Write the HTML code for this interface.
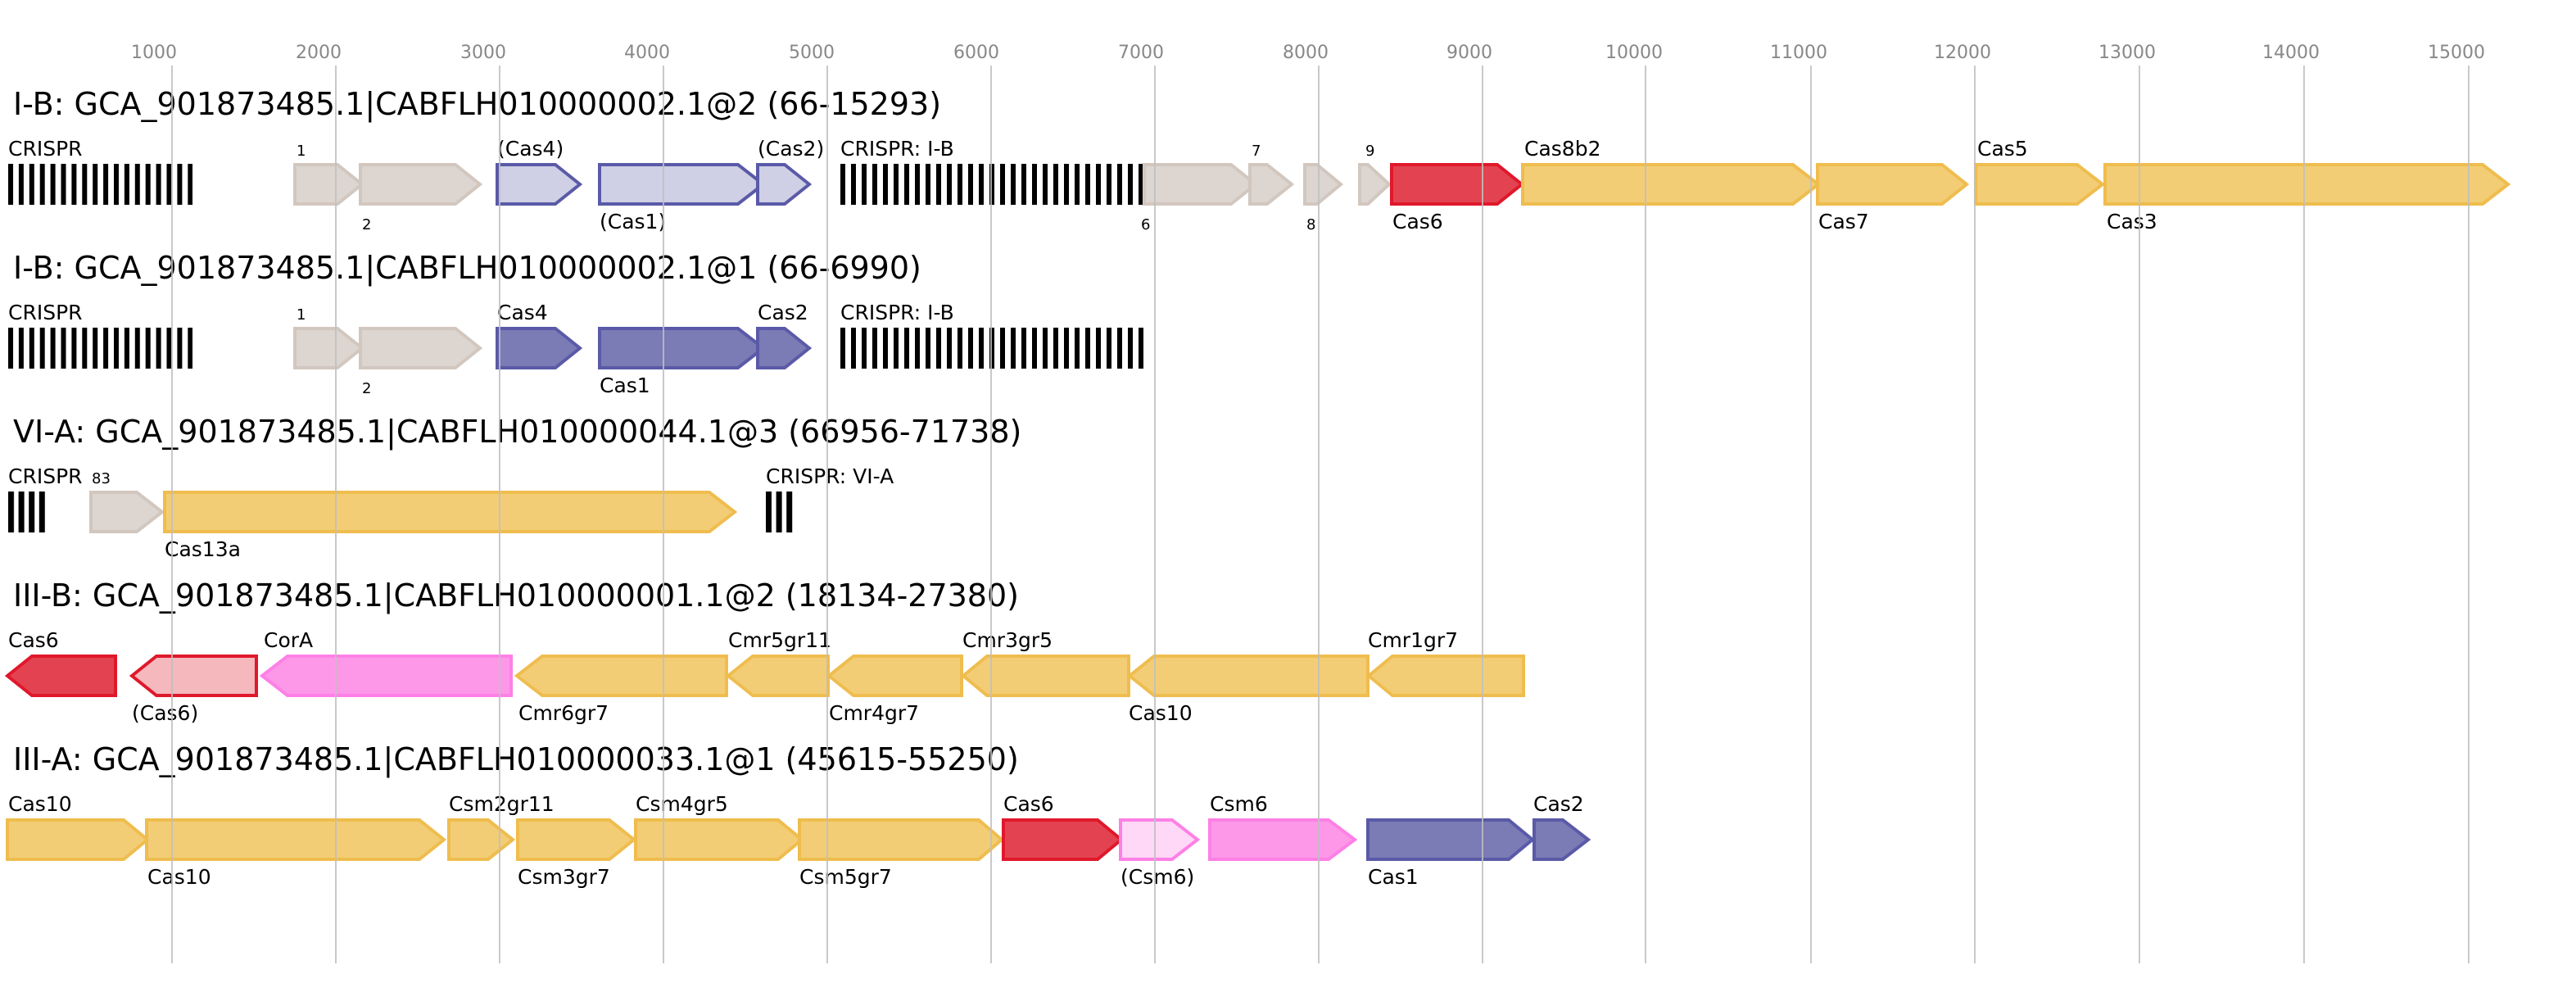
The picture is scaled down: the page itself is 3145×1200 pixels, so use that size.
<!DOCTYPE html>
<html><head><meta charset="utf-8"><style>
html,body{margin:0;padding:0;background:#fff;}
svg{display:block;}
text{font-family:"DejaVu Sans","Liberation Sans",sans-serif;fill:#000;}
.t{font-size:38px;}
.l{font-size:25px;}
.n{font-size:18px;}
.k{font-size:22px;fill:#888;text-anchor:middle;}
.gr{fill:#dcd5d0;stroke:#d2c7bf;stroke-width:4;}
.lb{fill:#cfcfe5;stroke:#5a5aa8;stroke-width:4;}
.db{fill:#7b7bb5;stroke:#5a5aa8;stroke-width:4;}
.rd{fill:#e34350;stroke:#e0182b;stroke-width:4;}
.lr{fill:#f4b8bd;stroke:#e0182b;stroke-width:4;}
.ye{fill:#f2cd75;stroke:#efbd4e;stroke-width:4;}
.pk{fill:#fd98e9;stroke:#fd80e6;stroke-width:4;}
.lp{fill:#fed8f6;stroke:#fd80e6;stroke-width:4;}
.g line{stroke:#c0c0c0;stroke-width:2;opacity:0.85;}
</style></head><body>
<svg width="3145" height="1200" viewBox="0 0 3145 1200" xmlns="http://www.w3.org/2000/svg">
<defs>
<pattern id="pa" x="10" y="0" width="12.9" height="10" patternUnits="userSpaceOnUse"><rect width="6" height="10" fill="#000"/></pattern>
<pattern id="pb" x="1026" y="0" width="13" height="10" patternUnits="userSpaceOnUse"><rect width="6" height="10" fill="#000"/></pattern>
<pattern id="pc" x="10" y="0" width="12.6" height="10" patternUnits="userSpaceOnUse"><rect width="7" height="10" fill="#000"/></pattern>
<pattern id="pd" x="935" y="0" width="12.6" height="10" patternUnits="userSpaceOnUse"><rect width="7" height="10" fill="#000"/></pattern>
</defs>

<text class="k" x="188" y="71">1000</text>
<text class="k" x="389" y="71">2000</text>
<text class="k" x="590" y="71">3000</text>
<text class="k" x="790" y="71">4000</text>
<text class="k" x="991" y="71">5000</text>
<text class="k" x="1192" y="71">6000</text>
<text class="k" x="1393" y="71">7000</text>
<text class="k" x="1594" y="71">8000</text>
<text class="k" x="1794" y="71">9000</text>
<text class="k" x="1995" y="71">10000</text>
<text class="k" x="2196" y="71">11000</text>
<text class="k" x="2396" y="71">12000</text>
<text class="k" x="2597" y="71">13000</text>
<text class="k" x="2797" y="71">14000</text>
<text class="k" x="2999" y="71">15000</text>

<text class="t" x="16" y="140">I-B: GCA_901873485.1|CABFLH010000002.1@2 (66-15293)</text>
<rect x="10" y="200" width="225" height="50" fill="url(#pa)"/>
<rect x="1026" y="200" width="370" height="50" fill="url(#pb)"/>
<polygon class="gr" points="360,201 412,201 442,225 412,249 360,249"/>
<polygon class="gr" points="440,201 556,201 586,225 556,249 440,249"/>
<polygon class="lb" points="607,201 678,201 708,225 678,249 607,249"/>
<polygon class="lb" points="732,201 901,201 932,225 901,249 732,249"/>
<polygon class="lb" points="925,201 958,201 988,225 958,249 925,249"/>
<polygon class="gr" points="1397,201 1503,201 1533,225 1503,249 1397,249"/>
<polygon class="gr" points="1526,201 1547,201 1577,225 1547,249 1526,249"/>
<polygon class="gr" points="1593,201 1608,201 1637,225 1608,249 1593,249"/>
<polygon class="gr" points="1660,201 1670,201 1696,225 1670,249 1660,249"/>
<polygon class="rd" points="1699,201 1828,201 1858,225 1828,249 1699,249"/>
<polygon class="ye" points="1859,201 2189,201 2220,225 2189,249 1859,249"/>
<polygon class="ye" points="2219,201 2371,201 2401,225 2371,249 2219,249"/>
<polygon class="ye" points="2412,201 2536,201 2567,225 2536,249 2412,249"/>
<polygon class="ye" points="2570,201 3031,201 3062,225 3031,249 2570,249"/>
<text class="l" x="10" y="190">CRISPR</text>
<text class="n" x="362" y="190">1</text>
<text class="n" x="442" y="280">2</text>
<text class="l" x="607" y="190">(Cas4)</text>
<text class="l" x="732" y="279">(Cas1)</text>
<text class="l" x="925" y="190">(Cas2)</text>
<text class="l" x="1026" y="190">CRISPR: I-B</text>
<text class="n" x="1393" y="280">6</text>
<text class="n" x="1528" y="190">7</text>
<text class="n" x="1595" y="280">8</text>
<text class="n" x="1667" y="190">9</text>
<text class="l" x="1700" y="279">Cas6</text>
<text class="l" x="1861" y="190">Cas8b2</text>
<text class="l" x="2220" y="279">Cas7</text>
<text class="l" x="2414" y="190">Cas5</text>
<text class="l" x="2572" y="279">Cas3</text>

<text class="t" x="16" y="340">I-B: GCA_901873485.1|CABFLH010000002.1@1 (66-6990)</text>
<rect x="10" y="400" width="225" height="50" fill="url(#pa)"/>
<rect x="1026" y="400" width="370" height="50" fill="url(#pb)"/>
<polygon class="gr" points="360,401 412,401 442,425 412,449 360,449"/>
<polygon class="gr" points="440,401 556,401 586,425 556,449 440,449"/>
<polygon class="db" points="607,401 678,401 708,425 678,449 607,449"/>
<polygon class="db" points="732,401 901,401 932,425 901,449 732,449"/>
<polygon class="db" points="925,401 958,401 988,425 958,449 925,449"/>
<text class="l" x="10" y="390">CRISPR</text>
<text class="n" x="362" y="390">1</text>
<text class="n" x="442" y="480">2</text>
<text class="l" x="607" y="390">Cas4</text>
<text class="l" x="732" y="479">Cas1</text>
<text class="l" x="925" y="390">Cas2</text>
<text class="l" x="1026" y="390">CRISPR: I-B</text>

<text class="t" x="16" y="540">VI-A: GCA_901873485.1|CABFLH010000044.1@3 (66956-71738)</text>
<rect x="10" y="600" width="48" height="50" fill="url(#pc)"/>
<rect x="935" y="600" width="33" height="50" fill="url(#pd)"/>
<polygon class="gr" points="111,601 167,601 198,625 167,649 111,649"/>
<polygon class="ye" points="201,601 866,601 897,625 866,649 201,649"/>
<text class="l" x="10" y="590">CRISPR</text>
<text class="n" x="112" y="590">83</text>
<text class="l" x="201" y="679">Cas13a</text>
<text class="l" x="935" y="590">CRISPR: VI-A</text>

<text class="t" x="16" y="740">III-B: GCA_901873485.1|CABFLH010000001.1@2 (18134-27380)</text>
<polygon class="rd" points="9,825 39,801 141,801 141,849 39,849"/>
<polygon class="lr" points="161,825 191,801 313,801 313,849 191,849"/>
<polygon class="pk" points="320,825 351,801 624,801 624,849 351,849"/>
<polygon class="ye" points="631,825 662,801 887,801 887,849 662,849"/>
<polygon class="ye" points="889,825 919,801 1011,801 1011,849 919,849"/>
<polygon class="ye" points="1012,825 1042,801 1174,801 1174,849 1042,849"/>
<polygon class="ye" points="1176,825 1205,801 1378,801 1378,849 1205,849"/>
<polygon class="ye" points="1379,825 1409,801 1670,801 1670,849 1409,849"/>
<polygon class="ye" points="1671,825 1700,801 1860,801 1860,849 1700,849"/>
<text class="l" x="10" y="790">Cas6</text>
<text class="l" x="161" y="879">(Cas6)</text>
<text class="l" x="322" y="790">CorA</text>
<text class="l" x="633" y="879">Cmr6gr7</text>
<text class="l" x="889" y="790">Cmr5gr11</text>
<text class="l" x="1012" y="879">Cmr4gr7</text>
<text class="l" x="1175" y="790">Cmr3gr5</text>
<text class="l" x="1378" y="879">Cas10</text>
<text class="l" x="1670" y="790">Cmr1gr7</text>

<text class="t" x="16" y="940">III-A: GCA_901873485.1|CABFLH010000033.1@1 (45615-55250)</text>
<polygon class="ye" points="9,1001 151,1001 180,1025 151,1049 9,1049"/>
<polygon class="ye" points="179,1001 512,1001 542,1025 512,1049 179,1049"/>
<polygon class="ye" points="548,1001 596,1001 626,1025 596,1049 548,1049"/>
<polygon class="ye" points="632,1001 744,1001 774,1025 744,1049 632,1049"/>
<polygon class="ye" points="776,1001 950,1001 979,1025 950,1049 776,1049"/>
<polygon class="ye" points="976,1001 1195,1001 1223,1025 1195,1049 976,1049"/>
<polygon class="rd" points="1225,1001 1340,1001 1369,1025 1340,1049 1225,1049"/>
<polygon class="lp" points="1368,1001 1431,1001 1462,1025 1431,1049 1368,1049"/>
<polygon class="pk" points="1477,1001 1622,1001 1654,1025 1622,1049 1477,1049"/>
<polygon class="db" points="1670,1001 1842,1001 1871,1025 1842,1049 1670,1049"/>
<polygon class="db" points="1873,1001 1908,1001 1939,1025 1908,1049 1873,1049"/>
<text class="l" x="10" y="990">Cas10</text>
<text class="l" x="180" y="1079">Cas10</text>
<text class="l" x="548" y="990">Csm2gr11</text>
<text class="l" x="632" y="1079">Csm3gr7</text>
<text class="l" x="776" y="990">Csm4gr5</text>
<text class="l" x="976" y="1079">Csm5gr7</text>
<text class="l" x="1225" y="990">Cas6</text>
<text class="l" x="1368" y="1079">(Csm6)</text>
<text class="l" x="1477" y="990">Csm6</text>
<text class="l" x="1670" y="1079">Cas1</text>
<text class="l" x="1872" y="990">Cas2</text>

<g class="g">
<line x1="210" y1="80" x2="210" y2="1176"/>
<line x1="410" y1="80" x2="410" y2="1176"/>
<line x1="610" y1="80" x2="610" y2="1176"/>
<line x1="810" y1="80" x2="810" y2="1176"/>
<line x1="1010" y1="80" x2="1010" y2="1176"/>
<line x1="1210" y1="80" x2="1210" y2="1176"/>
<line x1="1410" y1="80" x2="1410" y2="1176"/>
<line x1="1610" y1="80" x2="1610" y2="1176"/>
<line x1="1810" y1="80" x2="1810" y2="1176"/>
<line x1="2009" y1="80" x2="2009" y2="1176"/>
<line x1="2211" y1="80" x2="2211" y2="1176"/>
<line x1="2411" y1="80" x2="2411" y2="1176"/>
<line x1="2612" y1="80" x2="2612" y2="1176"/>
<line x1="2813" y1="80" x2="2813" y2="1176"/>
<line x1="3014" y1="80" x2="3014" y2="1176"/>
</g>
</svg>
</body></html>
